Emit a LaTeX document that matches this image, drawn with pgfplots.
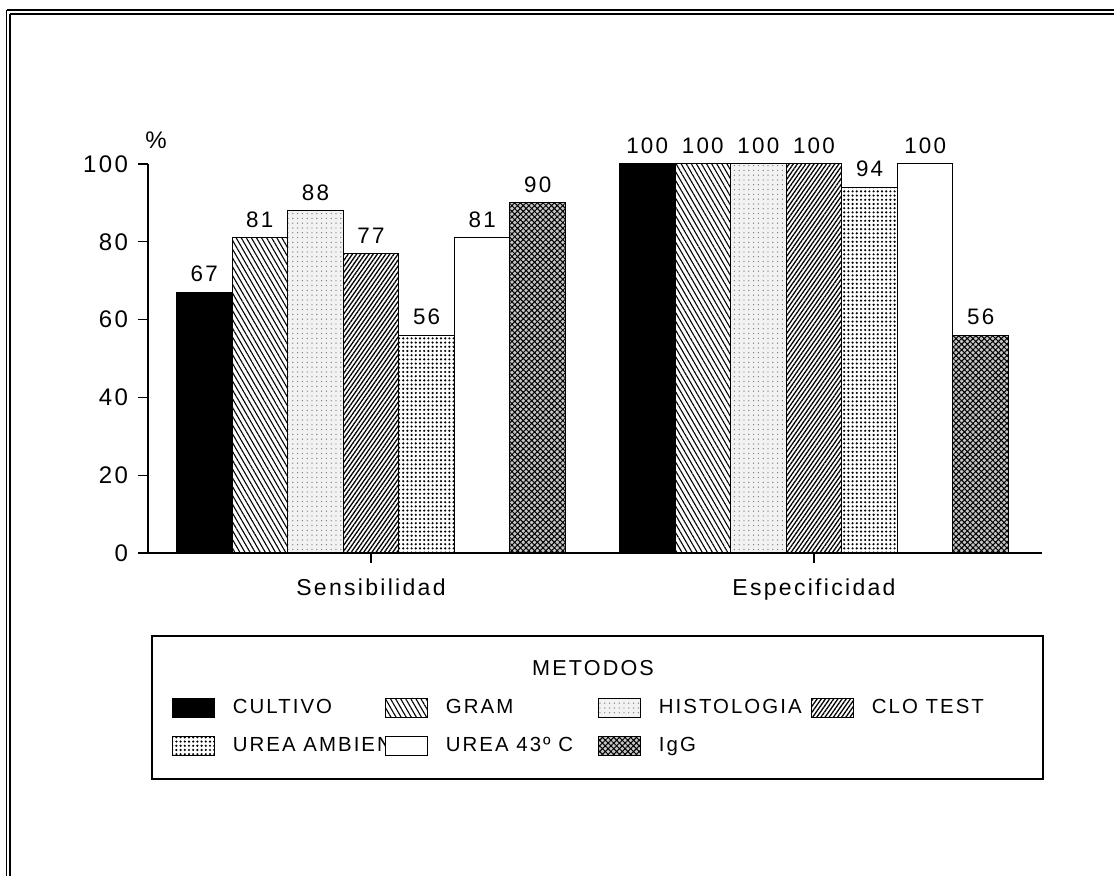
\documentclass[border=0pt]{standalone}
\usepackage{pgfplots}
\pgfplotsset{compat=1.18}
\usetikzlibrary{patterns,patterns.meta}
\usepackage{fontspec}
\setmainfont{Liberation Sans}[LetterSpace=10]

\begin{document}
\begin{tikzpicture}
\begin{axis}[
  at={(0pt,0pt)}, anchor=south west,
  scale only axis,
  width=447pt, height=194.5pt,
  xmin=-0.5034, xmax=1.5147,
  ymin=0, ymax=100,
  axis lines=left,
  axis line style={-, line width=0.6pt},
  ybar=0pt, bar width=0.1255,
  xtick={0,1}, xticklabels={Sensibilidad,Especificidad},
  ytick={0,20,40,60,80,100},
  tick align=outside,
  major tick length=5pt,
  tick style={line width=0.6pt, black},
  /pgf/number format/assume math mode=true,
  yticklabel style={font=\fontsize{12}{14}\selectfont, xshift=-1.5pt},
  xticklabel style={font=\fontsize{11.5}{13}\selectfont, yshift=-4.5pt},
  clip=false,
  nodes near coords,
  every node near coord/.append style={font=\fontsize{11.2}{13}\selectfont, yshift=1.5pt},
  every axis plot post/.append style={legend image code/.code={\draw[##1, line width=0.5pt] (0pt,-4.75pt) rectangle (21pt,4.75pt);}},
  legend columns=4,
  legend cell align=left,
  legend style={draw=none, fill=none, at={(axis description cs:0.0268,-0.3728)}, anchor=north west,
    inner sep=0pt, outer sep=0pt, font=\fontsize{10.2}{12}\selectfont,
    nodes={inner sep=0pt, text height=7.4pt, text depth=2pt},
    row sep=9pt,
    /tikz/every odd column/.style={column sep=9pt}},
]
\addplot[draw=black, line width=0.5pt, fill=black] coordinates {(0,67) (1,100)};
\addlegendentry{\makebox[76pt][l]{CULTIVO}}
\addplot[draw=black, line width=0.5pt, fill=white, postaction={pattern={Lines[angle=-60,distance=2.2pt,line width=0.55pt]}}] coordinates {(0,81) (1,100)};
\addlegendentry{\makebox[76pt][l]{GRAM}}
\addplot[draw=black, line width=0.5pt, fill=gray!10, postaction={pattern={Dots[distance=2.4pt,radius=0.35pt]}, pattern color=gray}] coordinates {(0,88) (1,100)};
\addlegendentry{\makebox[76pt][l]{HISTOLOGIA}}
\addplot[draw=black, line width=0.5pt, fill=white, postaction={pattern={Lines[angle=55,distance=1.7pt,line width=0.65pt]}}] coordinates {(0,77) (1,100)};
\addlegendentry{\makebox[76pt][l]{CLO TEST}}
\addplot[draw=black, line width=0.5pt, fill=white, postaction={pattern={Dots[distance=2.1pt,radius=0.6pt]}}] coordinates {(0,56) (1,94)};
\addlegendentry{\makebox[76pt][l]{UREA AMBIENTE}}
\addplot[draw=black, line width=0.5pt, fill=white] coordinates {(0,81) (1,100)};
\addlegendentry{\makebox[76pt][l]{UREA 43º C}}
\addplot[draw=black, line width=0.5pt, fill=gray!45, postaction={pattern={Hatch[angle=45,distance=2pt,line width=0.5pt]}}] coordinates {(0,90) (1,56)};
\addlegendentry{\makebox[76pt][l]{IgG}}
\node[font=\fontsize{12}{14}\selectfont] at (rel axis cs:0.009,1.062) {\%};
\end{axis}
% legend frame and title
\draw[line width=0.6pt] (2pt,-41.5pt) rectangle (447.5pt,-113pt);
\node[font=\fontsize{10.8}{12}\selectfont] at (222.5pt,-57.5pt) {METODOS};
% outer frame
\draw[line width=0.7pt] (-70.6pt,271.5pt) -- (483pt,271.5pt);
\draw[line width=0.7pt] (-69pt,269.5pt) -- (483pt,269.5pt);
\draw[line width=0.7pt] (-70.6pt,271.5pt) -- (-70.6pt,-161.5pt);
\draw[line width=0.7pt] (-69pt,269.5pt) -- (-69pt,-161.5pt);
\pgfresetboundingbox
\useasboundingbox (-74pt,-161.5pt) rectangle (483pt,276.5pt);
\end{tikzpicture}
\end{document}
